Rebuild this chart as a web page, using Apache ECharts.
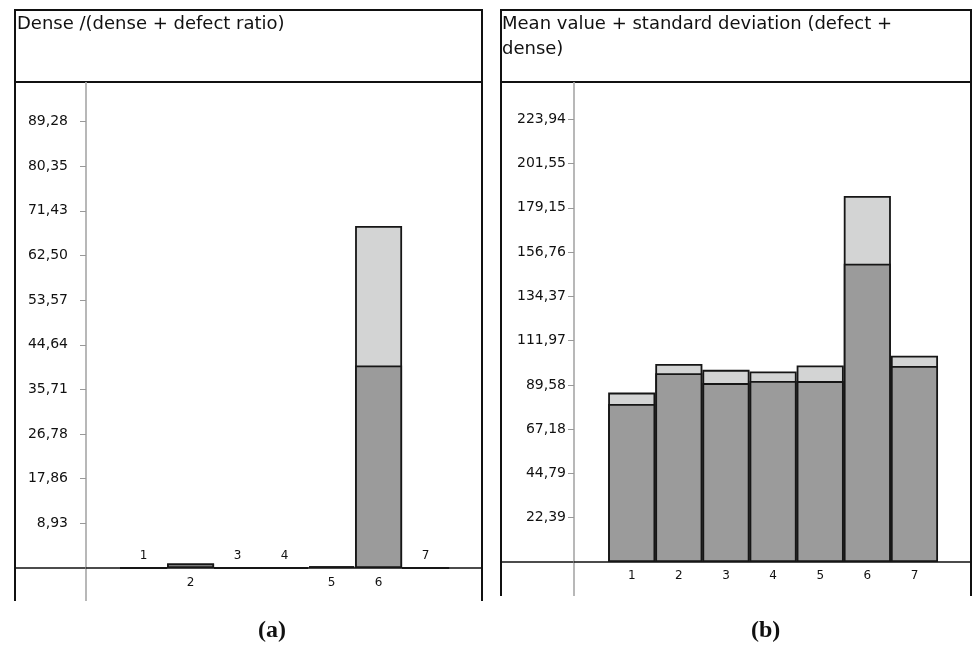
<!DOCTYPE html>
<html lang="en">
<head>
<meta charset="UTF-8" />
<title>Dense ratio / mean value</title>
<script src="https://cdn.jsdelivr.net/npm/echarts@6.0.0/dist/echarts.min.js"></script>
</head>
<body style="margin:0;background:#fff">
<div id="main" style="width:972px;height:646px"></div>
<script>
const categories = ['1', '2', '3', '4', '5', '6', '7'];

// (a) Dense / (dense + defect ratio)
const ratioDense = [0, 0.9, 0, 0, 0.35, 40.5, 0];
const ratioExtra = [0, 0, 0, 0, 0, 27.9, 0];
const ratioTicks = ['8,93', '17,86', '26,78', '35,71', '44,64', '53,57', '62,50', '71,43', '80,35', '89,28'];

// (b) Mean value + standard deviation
const meanValue = [79.9, 95.5, 90.5, 91.6, 91.5, 150.9, 99.2];
const stdDev = [5.8, 4.7, 6.7, 4.8, 7.9, 34.3, 5.1];
const meanTicks = ['22,39', '44,79', '67,18', '89,58', '111,97', '134,37', '156,76', '179,15', '201,55', '223,94'];

const chart = echarts.init(document.getElementById('main'));

const font = 'DejaVu Sans';
const tickNum = (s) => parseFloat(s.replace(',', '.'));
const fmtTick = (v) => v.toFixed(2).replace('.', ',');
const pairs = (arr) => categories.map((c, i) => [Number(c), arr[i]]);
// upper (light) segment is drawn as the full total, the dark part covers its lower portion
const totals = (a, b) => categories.map((c, i) => [Number(c), a[i] + b[i]]);
const catValues = categories.map(Number);

function xAxisFor(idx, labelOpts) {
  return {
    type: 'value', gridIndex: idx, min: -0.225, max: 8.2,
    axisLine: { show: true, onZero: true, lineStyle: { color: '#111', width: 1.5 } },
    axisTick: { show: false },
    splitLine: { show: false },
    axisLabel: Object.assign({
      customValues: catValues,
      color: '#111', fontFamily: font, fontSize: 12
    }, labelOpts)
  };
}

function yAxisFor(idx, max, ticks, margin) {
  const vals = ticks.map(tickNum);
  return {
    type: 'value', gridIndex: idx, min: 0, max: max,
    axisLine: { show: true, onZero: false, lineStyle: { color: '#b8b8b8', width: 2 } },
    axisTick: { show: true, customValues: vals, length: 6, lineStyle: { color: '#999', width: 1 } },
    splitLine: { show: false },
    axisLabel: {
      customValues: vals, formatter: fmtTick, margin: margin,
      color: '#111', fontFamily: font, fontSize: 14
    }
  };
}

const barStyle = (color) => ({ color: color, borderColor: '#161616', borderWidth: 1.8 });

function frame(x0, x1, yBottom, yBase, xAxisLine) {
  return [
    { type: 'polyline', shape: { points: [[x0, yBottom], [x0, 10], [x1, 10], [x1, yBottom]] },
      style: { stroke: '#111', lineWidth: 2, fill: null } },
    { type: 'line', shape: { x1: x0, y1: 82, x2: x1, y2: 82 }, style: { stroke: '#111', lineWidth: 2 } },
    { type: 'line', shape: { x1: x0, y1: yBase, x2: xAxisLine, y2: yBase }, style: { stroke: '#111', lineWidth: 1.5 } },
    { type: 'line', shape: { x1: xAxisLine, y1: yBase, x2: xAxisLine, y2: yBottom }, style: { stroke: '#b8b8b8', lineWidth: 2 } }
  ];
}

const titleStyle = { fontFamily: font, fontSize: 18, fontWeight: 'normal', color: '#111', lineHeight: 25 };
const capStyle = { fontFamily: 'Liberation Serif', fontSize: 24, fontWeight: 'bold', color: '#111' };

const option = {
  animation: false,
  backgroundColor: '#fff',
  title: [
    { text: 'Dense /(dense + defect ratio)', left: 17, top: 12, padding: 0, textStyle: titleStyle },
    { text: 'Mean value + standard deviation (defect +\ndense)', left: 502, top: 12, padding: 0, textStyle: titleStyle },
    { text: '(a)', left: 258, top: 619, padding: 0, textStyle: capStyle },
    { text: '(b)', left: 751, top: 619, padding: 0, textStyle: capStyle }
  ],
  grid: [
    { left: 86, right: 490, top: 83, bottom: 78 },
    { left: 574, right: 1, top: 83, bottom: 84 }
  ],
  xAxis: [
    // labels sit above the line where the bar is empty, below it otherwise
    xAxisFor(0, {
      margin: -26, lineHeight: 27,
      formatter: (v) => {
        const i = categories.indexOf(String(v));
        return ratioDense[i] + ratioExtra[i] > 0 ? '\n' + v : String(v);
      }
    }),
    xAxisFor(1, { margin: 8 })
  ],
  yAxis: [
    yAxisFor(0, 97.0, ratioTicks, 18),
    yAxisFor(1, 242.3, meanTicks, 8)
  ],
  series: [
    { type: 'bar', name: 'dense + defect', xAxisIndex: 0, yAxisIndex: 0, barWidth: '100%', barGap: '-100%',
      data: totals(ratioDense, ratioExtra), itemStyle: barStyle('#d3d4d4') },
    { type: 'bar', name: 'dense', xAxisIndex: 0, yAxisIndex: 0, barWidth: '100%', barGap: '-100%',
      data: pairs(ratioDense), itemStyle: barStyle('#9b9b9b') },
    { type: 'bar', name: 'mean + std', xAxisIndex: 1, yAxisIndex: 1, barWidth: '100%', barGap: '-100%',
      data: totals(meanValue, stdDev), itemStyle: barStyle('#d3d4d4') },
    { type: 'bar', name: 'mean', xAxisIndex: 1, yAxisIndex: 1, barWidth: '100%', barGap: '-100%',
      data: pairs(meanValue), itemStyle: barStyle('#9b9b9b') }
  ],
  graphic: frame(15, 482, 601, 568, 86).concat(frame(501, 971, 596, 562, 574))
};

chart.setOption(option);
</script>
</body>
</html>
